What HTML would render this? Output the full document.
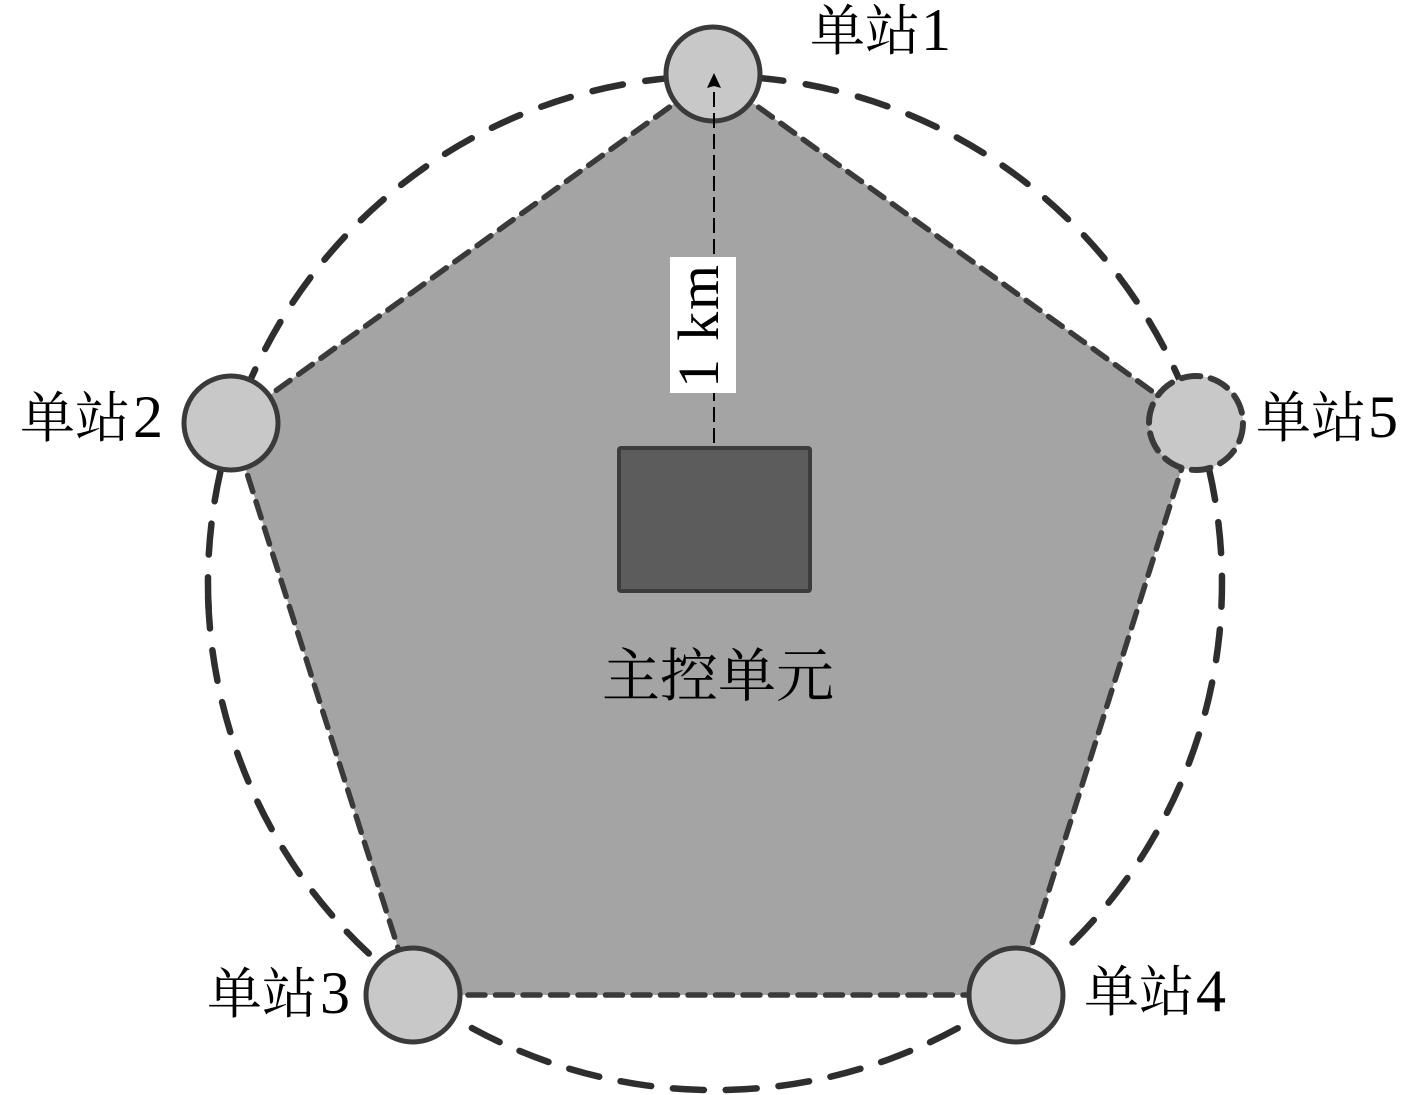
<!DOCTYPE html>
<html lang="zh">
<head>
<meta charset="utf-8">
<title>主控单元与单站布局</title>
<style>
html,body{margin:0;padding:0;background:#fff;width:1417px;height:1095px;overflow:hidden}
svg{display:block}
.l{font-family:"Liberation Serif","Noto Serif CJK SC",serif;font-size:55px;fill:#000}
.d{font-size:60px}
</style>
</head>
<body>
<svg width="1417" height="1095" viewBox="0 0 1417 1095" xmlns="http://www.w3.org/2000/svg">
<g fill="none" stroke="#2e2e2e" stroke-width="6.5" stroke-linecap="round">
<path d="M208.6 608.2A507 507 0 1 1 1069.2 945.8" stroke-dasharray="31 22.68"/>
<path d="M957.7 1028.2A507 507 0 0 1 208 591.2" stroke-dasharray="31 21.84"/>
</g>
<polygon points="714,75 231,423 413,995 1016,995 1196,423" fill="#a4a4a4"/>
<g fill="none" stroke="#3a3a3a" stroke-width="5.5" stroke-linecap="round" stroke-dasharray="17 10.5">
<path d="M714 75L231 423"/>
<path d="M231 423L413 995"/>
<path d="M413 995L1016 995"/>
<path d="M1016 995L1196 423"/>
<path d="M1196 423L714 75"/>
</g>
<rect x="619" y="448" width="191" height="143" rx="2" fill="#5c5c5c" stroke="#3c3c3c" stroke-width="4"/>
<circle cx="713" cy="74" r="47" fill="#c8c8c8" stroke="#3a3a3a" stroke-width="5"/>
<circle cx="231" cy="423" r="47" fill="#c8c8c8" stroke="#3a3a3a" stroke-width="5"/>
<circle cx="413" cy="995" r="47" fill="#c8c8c8" stroke="#3a3a3a" stroke-width="5"/>
<circle cx="1016" cy="995" r="47" fill="#c8c8c8" stroke="#3a3a3a" stroke-width="5"/>
<circle cx="1196" cy="423" r="47" fill="#c8c8c8" stroke="#3a3a3a" stroke-width="6" stroke-dasharray="19 10.5" stroke-linecap="round"/>
<line x1="714" y1="443" x2="714" y2="86" stroke="#000" stroke-width="2" stroke-dasharray="15 6"/>
<polygon points="714,73 721,88 714,86 707,88" fill="#000"/>
<rect x="670" y="257" width="66" height="136" fill="#fff"/>
<text transform="translate(718 388) rotate(-90)" font-family="Liberation Serif,serif" font-size="58" textLength="123" lengthAdjust="spacing" fill="#000">1 km</text>
<text class="l" x="810" y="50">单站<tspan class="d" dx="1">1</tspan></text>
<text class="l" x="20" y="437">单站<tspan class="d" dx="3">2</tspan></text>
<text class="l" x="207" y="1013">单站<tspan class="d" dx="3">3</tspan></text>
<text class="l" x="1084" y="1011">单站<tspan class="d" dx="2">4</tspan></text>
<text class="l" x="1256" y="437">单站<tspan class="d" dx="2">5</tspan></text>
<text x="602" y="696" font-family="Noto Serif CJK SC,serif" font-size="58" fill="#000">主控单元</text>
</svg>
</body>
</html>
